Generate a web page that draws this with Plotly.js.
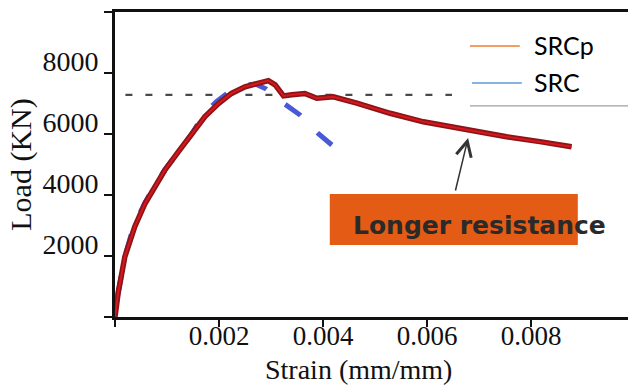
<!DOCTYPE html>
<html>
<head>
<meta charset="utf-8">
<script src="https://cdn.plot.ly/plotly-3.0.1.min.js"></script>
<style>html,body{margin:0;padding:0;background:#fff}#chart{width:628px;height:385px}</style>
</head>
<body>
<div id="chart"></div>
<script>
// SRCp (red, solid) strain vs load
const srcpStrain = [0, 0.00006, 0.00019, 0.00038, 0.00058, 0.00077, 0.00096, 0.00122, 0.00147, 0.00173, 0.00199, 0.00224, 0.0025, 0.00276, 0.00295, 0.00308, 0.00324, 0.0034, 0.00365, 0.00388, 0.0042, 0.00465, 0.00529, 0.00593, 0.00657, 0.0069, 0.00721, 0.00753, 0.00817, 0.00878];
const srcpLoad   = [0, 780, 1980, 2960, 3730, 4270, 4820, 5420, 5970, 6570, 7000, 7330, 7550, 7660, 7750, 7610, 7250, 7290, 7330, 7170, 7220, 7010, 6680, 6400, 6190, 6080, 6000, 5910, 5750, 5580];
// SRC (blue, dashed), listed from the end of the curve back to the origin
const srcStrain = [0.00417, 0.0039, 0.00356, 0.0032, 0.0029, 0.0027, 0.0025, 0.0022, 0.00195, 0.0017, 0.00147, 0.00122, 0.00096, 0.00076, 0.00058, 0.00036, 0.00019, 0.00006, 0];
const srcLoad   = [5640, 6030, 6620, 7060, 7480, 7640, 7600, 7390, 7060, 6640, 5980, 5430, 4830, 4300, 3760, 2990, 1990, 790, 0];
// horizontal reference level
const refStrain = [0.0002, 0.00648];
const refLoad   = [7280, 7280];
// ticks
const xTickVals = [0, 0.002, 0.004, 0.006, 0.008];
const xTickText = ['', '0.002', '0.004', '0.006', '0.008'];
const yTickVals = [0, 2000, 4000, 6000, 8000, 10000];
const yTickText = ['', '2000', '4000', '6000', '8000', ''];
const seriesNames = ['SRCp', 'SRC'];
const legendColors = ['#ed7d31', '#5b9bd5'];
const calloutText = 'Longer resistance';
const xTitle = 'Strain (mm/mm)';
const yTitle = 'Load (KN)';

const traces = [
  {x: refStrain, y: refLoad, mode: 'lines', line: {color: '#4a4a4a', width: 2.2, dash: '7px,13px'}, hoverinfo: 'skip', showlegend: false},
  {x: srcStrain, y: srcLoad, name: seriesNames[1], mode: 'lines', line: {color: '#4a5ad6', width: 5, dash: '19px,24px'}, showlegend: false},
  {x: srcpStrain, y: srcpLoad, name: seriesNames[0], mode: 'lines', line: {color: '#8a1518', width: 5.5}, showlegend: false},
  {x: srcpStrain, y: srcpLoad, name: seriesNames[0], mode: 'lines', line: {color: '#d8161c', width: 2}, showlegend: false, hoverinfo: 'skip'}
];

const serif = 'Liberation Serif, Times New Roman, serif';
const layout = {
  width: 628, height: 385,
  margin: {l: 115, r: 0, t: 12, b: 68},
  paper_bgcolor: '#fff', plot_bgcolor: '#fff',
  showlegend: false,
  xaxis: {
    range: [0, 0.009865], showgrid: false, zeroline: false,
    showline: true, linecolor: '#111', linewidth: 3, mirror: true,
    ticks: 'outside', ticklen: 7, tickwidth: 2, tickcolor: '#111',
    tickvals: xTickVals, ticktext: xTickText,
    ticklabelstandoff: -14,
    tickfont: {family: serif, size: 27, color: '#111'}
  },
  yaxis: {
    range: [0, 10000], showgrid: false, zeroline: false,
    showline: true, linecolor: '#111', linewidth: 3,
    ticks: 'outside', ticklen: 8, tickwidth: 2, tickcolor: '#111',
    tickvals: yTickVals, ticktext: yTickText,
    ticklabelshift: -12, ticklabelstandoff: 0,
    tickfont: {family: serif, size: 28, color: '#111'},
    title: {text: yTitle, font: {family: serif, size: 30, color: '#111'}, standoff: 2}
  },
  shapes: [
    {type: 'rect', xref: 'x', yref: 'y', x0: 0.00413, x1: 0.0089, y0: 2361, y1: 4033, fillcolor: '#e35b14', line: {width: 0}, layer: 'above'},
    {type: 'line', xref: 'paper', yref: 'paper', x0: 0.692, x1: 0.789, y0: 0.8885, y1: 0.8885, line: {color: legendColors[0], width: 1.5}},
    {type: 'line', xref: 'paper', yref: 'paper', x0: 0.696, x1: 0.793, y0: 0.767, y1: 0.767, line: {color: legendColors[1], width: 1.5}},
    {type: 'line', xref: 'paper', yref: 'paper', x0: 0.692, x1: 1.0, y0: 0.692, y1: 0.692, line: {color: '#a0a0a0', width: 1.2}}
  ],
  annotations: [
    {xref: 'paper', yref: 'paper', x: 0.4737, y: -0.171, xanchor: 'center', yanchor: 'middle', showarrow: false, text: xTitle, font: {family: serif, size: 28, color: '#111'}},
    {xref: 'paper', yref: 'paper', x: 0.813, y: 0.892, xanchor: 'left', yanchor: 'middle', showarrow: false, text: seriesNames[0], font: {family: 'Lato, Noto Sans, sans-serif', size: 25, color: '#000'}},
    {xref: 'paper', yref: 'paper', x: 0.813, y: 0.770, xanchor: 'left', yanchor: 'middle', showarrow: false, text: seriesNames[1], font: {family: 'Lato, Noto Sans, sans-serif', size: 25, color: '#000'}},
    {xref: 'x', yref: 'y', x: 0.00679, y: 5870, ax: 0.00654, ay: 4100, axref: 'x', ayref: 'y', showarrow: true, arrowhead: 5, arrowsize: 2, arrowwidth: 1.5, arrowcolor: '#333', text: ''},
    {xref: 'x', yref: 'y', x: 0.00700, y: 2990, xanchor: 'center', yanchor: 'middle', showarrow: false, text: '<b>' + calloutText + '</b>', font: {family: 'DejaVu Sans, Verdana, sans-serif', size: 25, color: '#2a2a2a'}}
  ]
};

Plotly.newPlot('chart', traces, layout, {displayModeBar: false, staticPlot: true});
</script>
</body>
</html>
